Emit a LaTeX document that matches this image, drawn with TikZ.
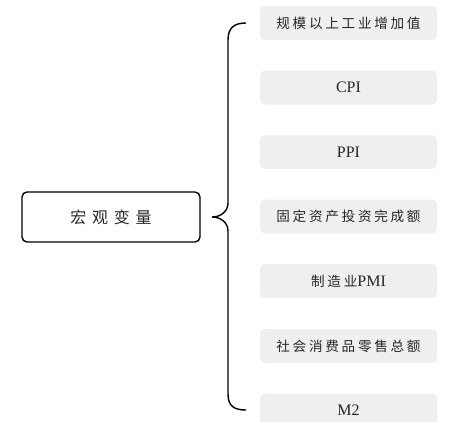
\documentclass[tikz,border=0pt]{standalone}
\usepackage{fontspec}
\setmainfont{Liberation Serif}
\newfontfamily\cjkbig[LetterSpace=36]{Noto Sans CJK SC}
\newfontfamily\cjksmall[LetterSpace=20]{Noto Sans CJK SC}
\definecolor{boxfill}{HTML}{EFEFEF}
\definecolor{txt}{HTML}{262626}
\begin{document}
\begin{tikzpicture}[x=1pt,y=-1pt,
  itembox/.style={fill=boxfill,rounded corners=5pt,minimum width=177pt,minimum height=34pt,inner sep=0pt,text=txt,font=\fontsize{16}{16}\selectfont,anchor=center},
  mainbox/.style={draw=black,line width=1.4pt,rounded corners=5pt,minimum width=178pt,minimum height=50pt,inner sep=0pt,text=txt},
  bracepath/.style={draw=black,line width=1.4pt}]
\useasboundingbox (0,0) rectangle (476,421);
\begin{scope}
\clip (0,0) rectangle (476,421);
\node[mainbox] (main) at (111,217) {\cjkbig\fontsize{16}{16}\selectfont 宏观变量\hspace{-6pt}};
\node[itembox] (b1) at (348.5,23) {\cjksmall\fontsize{13.6}{14}\selectfont 规模以上工业增加值\hspace{-3pt}};
\node[itembox] (b2) at (348.5,87.5) {CPI};
\node[itembox] (b3) at (348.5,152) {PPI};
\node[itembox] (b4) at (348.5,216.5) {\cjksmall\fontsize{13.6}{14}\selectfont 固定资产投资完成额\hspace{-3pt}};
\node[itembox] (b5) at (348.5,281) {{\cjksmall\fontsize{13.6}{14}\selectfont 制造业}PMI};
\node[itembox] (b6) at (348.5,346) {\cjksmall\fontsize{13.6}{14}\selectfont 社会消费品零售总额\hspace{-3pt}};
\node[itembox] (b7) at (348.5,410.5) {M2};
\coordinate (tip) at (212,217);
\coordinate (top) at (246,23);
\coordinate (bot) at (246,410);
\draw[bracepath] (top) .. controls (234,23) and (228,28) .. (228,40)
  -- (228,203) .. controls (228,212) and (220,217) .. (tip)
  .. controls (220,217) and (228,222) .. (228,231)
  -- (228,394) .. controls (228,406) and (234,410) .. (bot);
\end{scope}
\end{tikzpicture}
\end{document}
